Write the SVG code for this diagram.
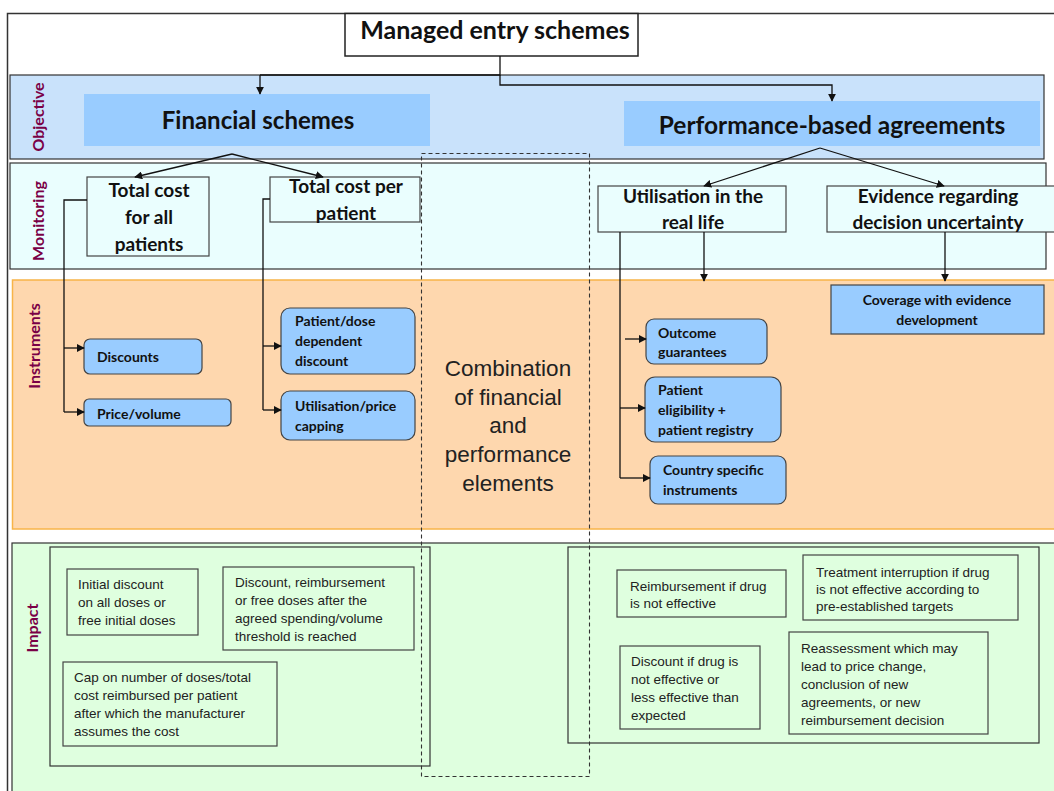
<svg xmlns="http://www.w3.org/2000/svg" width="1054" height="791" viewBox="0 0 1054 791">
<defs>
<marker id="ah" viewBox="0 0 10 10" refX="9" refY="5" markerWidth="8" markerHeight="8" markerUnits="userSpaceOnUse" orient="auto"><path d="M0,0 L10,5 L0,10 z" fill="#111"/></marker>
<style>
.band{stroke:#333;stroke-width:1.2}
.rl{font-family:Lato,"Open Sans",sans-serif;font-weight:bold;fill:#7a0046;font-size:16px;text-anchor:middle}
.mon{fill:#eafefe;stroke:#444;stroke-width:1.2}
.h1{font-family:Lato,"Noto Sans",sans-serif;font-weight:bold;fill:#111;text-anchor:middle}
.inst{fill:#99ccff;stroke:#444;stroke-width:1.2}
.it{font-family:Lato,"Noto Sans",sans-serif;font-weight:bold;font-size:14px;fill:#111}
.imp{fill:none;stroke:#333;stroke-width:1.2}
.ib{fill:#dfffdf;stroke:#444;stroke-width:1.2}
.t{font-family:"Liberation Sans",Arial,sans-serif;font-size:13.5px;fill:#222}
.c{fill:none;stroke:#111;stroke-width:1.3}
.cf{fill:none;stroke:#111;stroke-width:1.3;marker-end:url(#ah)}
</style>
</defs>
<rect width="1054" height="791" fill="#fff"/>
<rect x="7.5" y="13.5" width="1060" height="800" fill="#fff" stroke="#333" stroke-width="1.5"/>

<g id="band-objective">
<rect class="band" x="10" y="75" width="1034" height="84" fill="#c9e2fb"/>
<text class="rl" transform="translate(44,117) rotate(-90)">Objective</text>
</g>
<g id="band-monitoring">
<rect class="band" x="10" y="163" width="1036" height="106" fill="#eafefe"/>
<text class="rl" transform="translate(44,221) rotate(-90)">Monitoring</text>
</g>
<g id="band-instruments">
<rect x="12.5" y="280" width="1050" height="249" fill="#fed7ae" stroke="#f8b448" stroke-width="1.5"/>
<text class="rl" transform="translate(40,346) rotate(-90)">Instruments</text>
</g>
<g id="band-impact">
<rect class="band" x="12" y="543" width="1050" height="260" fill="#dfffdf"/>
<text class="rl" transform="translate(38,628) rotate(-90)">Impact</text>
</g>

<g id="title">
<rect x="345" y="13.5" width="293" height="42.5" fill="#fff" stroke="#222" stroke-width="1.5"/>
<text class="h1" x="495" y="39" font-size="25">Managed entry schemes</text>
</g>

<g id="financial-schemes">
<rect x="84" y="94" width="346" height="52" fill="#99ccff"/>
<text class="h1" x="258" y="129" font-size="24">Financial schemes</text>
</g>
<g id="performance-based">
<rect x="624" y="101" width="416" height="45" fill="#99ccff"/>
<text class="h1" x="832" y="134" font-size="24.5">Performance-based agreements</text>
</g>

<g id="total-cost-all">
<rect class="mon" x="87" y="177" width="122" height="79"/>
<text class="h1" font-size="19"><tspan x="149" y="197">Total cost</tspan><tspan x="149" y="224">for all</tspan><tspan x="149" y="251">patients</tspan></text>
</g>
<g id="total-cost-per">
<rect class="mon" x="270" y="177" width="150" height="45"/>
<text class="h1" font-size="19"><tspan x="346" y="193">Total cost per</tspan><tspan x="346" y="220">patient</tspan></text>
</g>
<g id="utilisation-real-life">
<rect class="mon" x="598" y="186" width="188" height="46"/>
<text class="h1" font-size="19"><tspan x="693" y="203">Utilisation in the</tspan><tspan x="693" y="229">real life</tspan></text>
</g>
<g id="evidence-uncertainty">
<rect class="mon" x="827" y="186" width="230" height="46"/>
<text class="h1" font-size="19"><tspan x="938" y="203">Evidence regarding</tspan><tspan x="938" y="229">decision uncertainty</tspan></text>
</g>

<g id="discounts">
<rect class="inst" x="84" y="339" width="118" height="35" rx="6"/>
<text class="it" x="97" y="362">Discounts</text>
</g>
<g id="price-volume">
<rect class="inst" x="84" y="399" width="147" height="27" rx="5"/>
<text class="it" x="97" y="419">Price/volume</text>
</g>
<g id="patient-dose">
<rect class="inst" x="281" y="308" width="134" height="66" rx="9"/>
<text class="it"><tspan x="295" y="326">Patient/dose</tspan><tspan x="295" y="346">dependent</tspan><tspan x="295" y="366">discount</tspan></text>
</g>
<g id="utilisation-capping">
<rect class="inst" x="281" y="391" width="134" height="49" rx="9"/>
<text class="it"><tspan x="295" y="411">Utilisation/price</tspan><tspan x="295" y="431">capping</tspan></text>
</g>
<g id="outcome-guarantees">
<rect class="inst" x="646" y="319" width="121" height="45" rx="8"/>
<text class="it"><tspan x="658" y="338">Outcome</tspan><tspan x="658" y="357">guarantees</tspan></text>
</g>
<g id="patient-eligibility">
<rect class="inst" x="645" y="377" width="136" height="65" rx="10"/>
<text class="it"><tspan x="658" y="395">Patient</tspan><tspan x="658" y="415">eligibility +</tspan><tspan x="658" y="435">patient registry</tspan></text>
</g>
<g id="country-specific">
<rect class="inst" x="650" y="456" width="136" height="48" rx="8"/>
<text class="it"><tspan x="663" y="475">Country specific</tspan><tspan x="663" y="495">instruments</tspan></text>
</g>
<g id="coverage-evidence">
<rect class="inst" x="831" y="285" width="213" height="49"/>
<text class="it" text-anchor="middle"><tspan x="937" y="305">Coverage with evidence</tspan><tspan x="937" y="325">development</tspan></text>
</g>

<g id="combination">
<rect x="421.5" y="153.5" width="168" height="623" fill="none" stroke="#333" stroke-width="1.1" stroke-dasharray="4,3"/>
<text font-family="'Liberation Sans',Arial,sans-serif" font-size="22.5" fill="#222" text-anchor="middle"><tspan x="508" y="376">Combination</tspan><tspan x="508" y="405">of financial</tspan><tspan x="508" y="433">and</tspan><tspan x="508" y="462">performance</tspan><tspan x="508" y="491">elements</tspan></text>
</g>

<g id="impact-financial">
<rect class="imp" x="50" y="547" width="380" height="219"/>
<rect class="ib" x="67" y="569" width="131" height="66"/>
<text class="t"><tspan x="78" y="589">Initial discount</tspan><tspan x="78" y="607">on all doses or</tspan><tspan x="78" y="625">free initial doses</tspan></text>
<rect class="ib" x="223" y="567" width="191" height="83"/>
<text class="t"><tspan x="235" y="587">Discount, reimbursement</tspan><tspan x="235" y="605">or free doses after the</tspan><tspan x="235" y="623">agreed spending/volume</tspan><tspan x="235" y="641">threshold is reached</tspan></text>
<rect class="ib" x="63" y="662" width="214" height="84"/>
<text class="t"><tspan x="74" y="682">Cap on number of doses/total</tspan><tspan x="74" y="700">cost reimbursed per patient</tspan><tspan x="74" y="718">after which the manufacturer</tspan><tspan x="74" y="736">assumes the cost</tspan></text>
</g>

<g id="impact-performance">
<rect class="imp" x="568" y="547" width="471" height="196"/>
<rect class="ib" x="617" y="570" width="169" height="47"/>
<text class="t"><tspan x="630" y="591">Reimbursement if drug</tspan><tspan x="630" y="608">is not effective</tspan></text>
<rect class="ib" x="803" y="555" width="215" height="65"/>
<text class="t"><tspan x="816" y="577">Treatment interruption if drug</tspan><tspan x="816" y="594">is not effective according to</tspan><tspan x="816" y="611">pre-established targets</tspan></text>
<rect class="ib" x="620" y="646" width="140" height="83"/>
<text class="t"><tspan x="631" y="666">Discount if drug is</tspan><tspan x="631" y="684">not effective or</tspan><tspan x="631" y="702">less effective than</tspan><tspan x="631" y="720">expected</tspan></text>
<rect class="ib" x="789" y="632" width="199" height="102"/>
<text class="t"><tspan x="801" y="653">Reassessment which may</tspan><tspan x="801" y="671">lead to price change,</tspan><tspan x="801" y="689">conclusion of new</tspan><tspan x="801" y="707">agreements, or new</tspan><tspan x="801" y="725">reimbursement decision</tspan></text>
</g>

<g id="connectors">
<polyline class="c" points="500,56 500,75 260,75"/>
<line class="cf" x1="260" y1="75" x2="260" y2="94"/>
<polyline class="cf" points="500,75 500,85 832,85 832,101"/>
<line class="cf" x1="232" y1="154" x2="135" y2="177"/>
<line class="cf" x1="232" y1="154" x2="323" y2="177"/>
<line class="cf" x1="820" y1="148" x2="704" y2="186"/>
<line class="cf" x1="820" y1="148" x2="944" y2="186"/>
<polyline class="c" points="87,200 64,200 64,412"/>
<line class="cf" x1="64" y1="348" x2="84" y2="348"/>
<line class="cf" x1="64" y1="412" x2="84" y2="412"/>
<polyline class="c" points="270,199 263,199 263,410"/>
<line class="cf" x1="263" y1="346" x2="281" y2="346"/>
<line class="cf" x1="263" y1="410" x2="281" y2="410"/>
<line class="c" x1="620" y1="232" x2="620" y2="478"/>
<line class="cf" x1="625" y1="339" x2="646" y2="339"/>
<line class="cf" x1="620" y1="408" x2="645" y2="408"/>
<line class="cf" x1="620" y1="478" x2="650" y2="478"/>
<line class="cf" x1="704" y1="232" x2="704" y2="281"/>
<line class="cf" x1="945" y1="232" x2="945" y2="281"/>
</g>
</svg>
